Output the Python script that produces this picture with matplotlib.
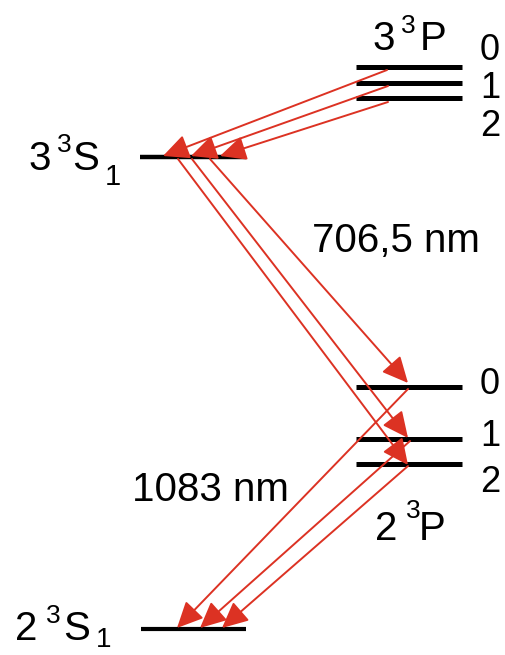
import matplotlib.pyplot as plt

# energy levels (pixel-like coordinates, y grows downward)
p3_levels = [67, 83, 98]        # 3^3P, J = 0, 1, 2
p2_levels = [387, 439, 464]     # 2^3P, J = 0, 1, 2
j_labels = ["0", "1", "2"]
s3_level = 157                  # 3^3S1
s2_level = 629                  # 2^3S1

# transitions: (x_start, y_start, x_end, y_end)
trans_3p_3s = [(387, 70, 163, 156), (388, 86, 191, 156), (388, 102, 220, 156)]
trans_3s_2p = [(210, 159, 408, 383), (192, 159, 408, 438), (178, 159, 408, 465)]
trans_2p_2s = [(408, 389, 177, 628), (410, 441, 200, 628), (408, 466, 222, 628)]

red = "#dc3223"
font = "Liberation Sans"

fig = plt.figure(figsize=(5.05, 6.55), dpi=100)
ax = fig.add_axes([0, 0, 1, 1])
ax.set_xlim(0, 505)
ax.set_ylim(655, 0)
ax.axis("off")

# level lines
for y in p3_levels:
    ax.plot([356, 462], [y, y], color="black", lw=3.6, solid_capstyle="butt")
for y in p2_levels:
    ax.plot([356, 462], [y, y], color="black", lw=3.6, solid_capstyle="butt")
ax.plot([140, 246], [s3_level, s3_level], color="black", lw=3.2, solid_capstyle="butt")
ax.plot([141, 246], [s2_level, s2_level], color="black", lw=3.0, solid_capstyle="butt")

# arrows
for x0, y0, x1, y1 in trans_3p_3s + trans_3s_2p + trans_2p_2s:
    ax.annotate("", xy=(x1, y1), xytext=(x0, y0),
                arrowprops=dict(arrowstyle="-|>,head_length=0.8,head_width=0.38",
                                mutation_scale=20, color=red, lw=1.4,
                                shrinkA=0, shrinkB=0), zorder=3)

# J labels
for lab, y in zip(j_labels, [50, 89, 126]):
    ax.text(490, y, lab, fontsize=26, family=font, ha="center", va="center")
for lab, y in zip(j_labels, [384, 437, 483]):
    ax.text(490, y, lab, fontsize=26, family=font, ha="center", va="center")

# 3^3P
ax.text(372, 50, "3", fontsize=29, family=font, va="baseline")
ax.text(401, 33, "3", fontsize=19, family=font, va="baseline")
ax.text(420, 50, "P", fontsize=29, family=font, va="baseline")

# 3^3S1
ax.text(28, 170, "3", fontsize=29, family=font, va="baseline")
ax.text(57, 152, "3", fontsize=19, family=font, va="baseline")
ax.text(72, 170, "S", fontsize=29, family=font, va="baseline")
ax.text(105, 185, "1", fontsize=21, family=font, va="baseline")

# 2^3P
ax.text(375, 540, "2", fontsize=29, family=font, va="baseline")
ax.text(406, 518, "3", fontsize=19, family=font, va="baseline")
ax.text(419, 540, "P", fontsize=29, family=font, va="baseline")

# 2^3S1
ax.text(15, 640, "2", fontsize=29, family=font, va="baseline")
ax.text(46, 623, "3", fontsize=19, family=font, va="baseline")
ax.text(63, 640, "S", fontsize=29, family=font, va="baseline")
ax.text(96, 647, "1", fontsize=20, family=font, va="baseline")

# wavelengths
ax.text(396, 241, "706,5 nm", fontsize=29, family=font, ha="center", va="center")
ax.text(210, 490, "1083 nm", fontsize=29, family=font, ha="center", va="center")

fig.savefig("out.png", dpi=100)
